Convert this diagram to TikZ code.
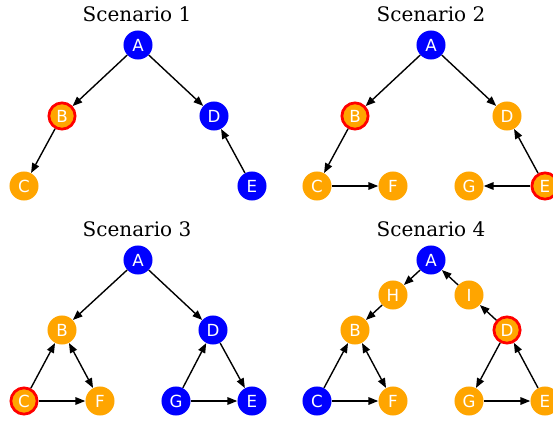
\documentclass[tikz,border=0pt]{standalone}
\usepackage{fontspec}
\setmainfont{DejaVu Serif}
\newfontfamily\labelfont{DejaVu Sans}
\usetikzlibrary{arrows.meta}
\definecolor{nodeblue}{RGB}{0,0,255}
\definecolor{nodeorange}{RGB}{255,165,0}
\definecolor{ringred}{RGB}{255,0,0}
\tikzset{
  vtx/.style={circle, inner sep=0pt, minimum size=20.9pt, text=white,
    font=\labelfont\fontsize{12}{14}\selectfont},
  bluev/.style={vtx, fill=nodeblue},
  orangev/.style={vtx, fill=nodeorange},
  flagv/.style={vtx, fill=nodeorange, draw=ringred, line width=2pt, minimum size=18.9pt},
  arc/.style={draw=black, line width=1pt, -{Triangle[length=7pt,width=5.4pt]}},
  biarc/.style={draw=black, line width=1pt, {Triangle[length=7pt,width=5.4pt]}-{Triangle[length=7pt,width=5.4pt]}},
  ttl/.style={anchor=base, font=\fontsize{14.4}{17}\selectfont}
}
\begin{document}
\begin{tikzpicture}[x=0.72pt, y=-0.72pt]
\useasboundingbox (0,0) rectangle (553,420);
\clip (0,0) rectangle (553,420);

% Scenario 1
\node[ttl] (t1) at (137,22) {Scenario 1};
\node[bluev]   (a1) at (138,45)  {A};
\node[flagv]   (b1) at (62,116)  {B};
\node[bluev]   (d1) at (214,116) {D};
\node[orangev] (c1) at (24,186)  {C};
\node[bluev]   (e1) at (252,186) {E};
\draw[arc] (a1) -- (b1);
\draw[arc] (a1) -- (d1);
\draw[arc] (b1) -- (c1);
\draw[arc] (e1) -- (d1);

% Scenario 2
\node[ttl] (t2) at (431,22) {Scenario 2};
\node[bluev]   (a2) at (431,45)  {A};
\node[flagv]   (b2) at (355,116) {B};
\node[orangev] (d2) at (507,116) {D};
\node[orangev] (c2) at (317,186) {C};
\node[orangev] (f2) at (393,186) {F};
\node[orangev] (g2) at (469,186) {G};
\node[flagv]   (e2) at (545,186) {E};
\draw[arc] (a2) -- (b2);
\draw[arc] (a2) -- (d2);
\draw[arc] (b2) -- (c2);
\draw[arc] (c2) -- (f2);
\draw[arc] (e2) -- (d2);
\draw[arc] (e2) -- (g2);

% Scenario 3
\node[ttl] (t3) at (137,236) {Scenario 3};
\node[bluev]   (a3) at (138,260) {A};
\node[orangev] (b3) at (62,330)  {B};
\node[bluev]   (d3) at (213,330) {D};
\node[flagv]   (c3) at (24,401)  {C};
\node[orangev] (f3) at (100,401) {F};
\node[bluev]   (g3) at (176,401) {G};
\node[bluev]   (e3) at (252,401) {E};
\draw[arc] (a3) -- (b3);
\draw[arc] (a3) -- (d3);
\draw[arc] (c3) -- (b3);
\draw[biarc] (b3) -- (f3);
\draw[arc] (c3) -- (f3);
\draw[arc] (d3) -- (e3);
\draw[arc] (g3) -- (d3);
\draw[arc] (g3) -- (e3);

% Scenario 4
\node[ttl] (t4) at (431,236) {Scenario 4};
\node[bluev]   (a4) at (431,260) {A};
\node[orangev] (h4) at (393,295) {H};
\node[orangev] (i4) at (469,295) {I};
\node[orangev] (b4) at (355,330) {B};
\node[flagv]   (d4) at (507,330) {D};
\node[bluev]   (c4) at (317,401) {C};
\node[orangev] (f4) at (393,401) {F};
\node[orangev] (g4) at (469,401) {G};
\node[orangev] (e4) at (545,401) {E};
\draw[arc] (a4) -- (h4);
\draw[arc] (h4) -- (b4);
\draw[arc] (i4) -- (a4);
\draw[arc] (d4) -- (i4);
\draw[arc] (c4) -- (b4);
\draw[biarc] (b4) -- (f4);
\draw[arc] (c4) -- (f4);
\draw[arc] (d4) -- (g4);
\draw[arc] (g4) -- (e4);
\draw[arc] (e4) -- (d4);
\end{tikzpicture}
\end{document}
